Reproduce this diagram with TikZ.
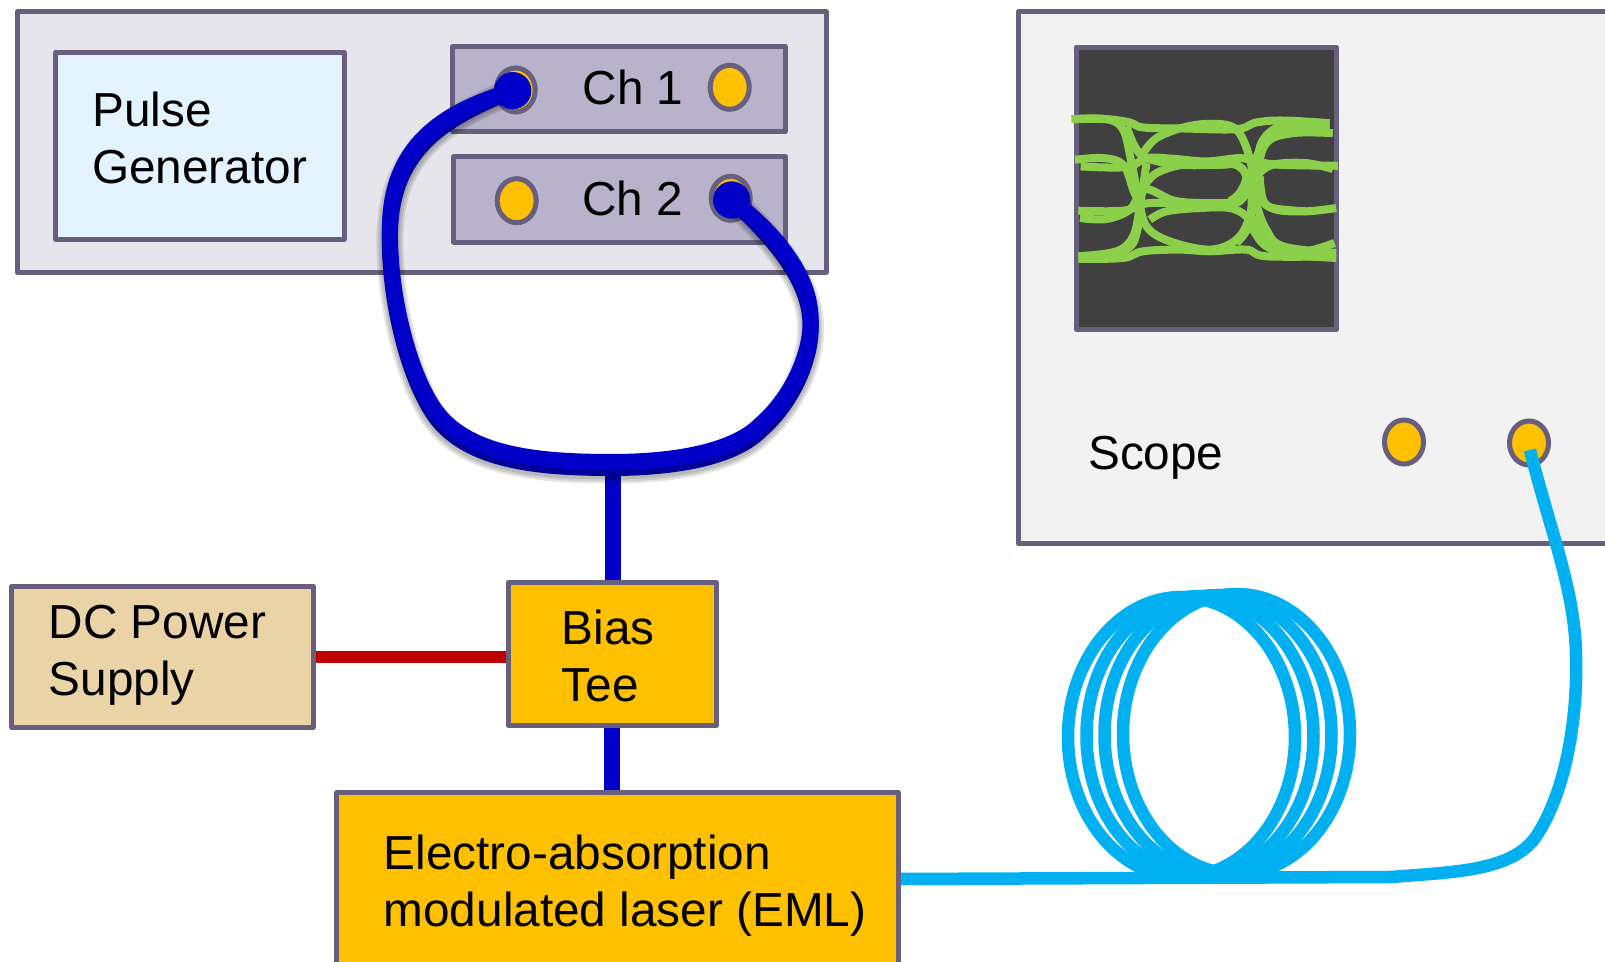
\documentclass[tikz,border=0pt]{standalone}
\usepackage{fontspec}
\setmainfont{Liberation Sans}
\usetikzlibrary{shapes.geometric}
\definecolor{edgegray}{HTML}{675F7D}
\definecolor{amber}{HTML}{FFC000}
\definecolor{cableblue}{HTML}{0000C8}
\definecolor{fiberblue}{HTML}{00B0F0}
\definecolor{eyegreen}{HTML}{8CCF4B}
\definecolor{panelgray}{HTML}{E6E5EC}
\definecolor{chgray}{HTML}{B8B3CA}
\definecolor{paleblue}{HTML}{E3F3FF}
\definecolor{sand}{HTML}{EBD3A8}
\tikzset{
  box/.style={draw=edgegray,line width=0.05cm,line join=round,inner sep=0pt},
  lbl/.style={anchor=west,inner sep=0pt,align=left,font=\fontsize{13.57}{16.3}\selectfont},
  port/.style={ellipse,draw=edgegray,fill=amber,line width=0.05cm,minimum width=0.39cm,minimum height=0.44cm,inner sep=0pt},
  plug/.style={circle,fill=cableblue,minimum size=0.37cm,inner sep=0pt},
  fiber/.style={draw=fiberblue,line width=0.125cm},
  eye/.style={draw=eyegreen,line width=0.08cm},
}
\newcommand{\cablepath}{(plugA.center) .. controls (450,110) and (392,140) .. (390,225)
  .. controls (388,290) and (408,372) .. (435,410)
  .. controls (468,456) and (540,462) .. (612,462)
  .. controls (680,462) and (735,450) .. (760,425)
  .. controls (795,395) and (815,345) .. (810,310)
  .. controls (806,270) and (770,228) .. (plugB.center)}
\begin{document}
\begin{tikzpicture}[x=0.01cm,y=-0.01cm]
\useasboundingbox (0,0) rectangle (1605,962);
% pulse generator
\node[box,fill=panelgray,minimum width=8.09cm,minimum height=2.6cm] (pg) at (421.75,142) {};
\node[box,fill=paleblue,minimum width=2.88cm,minimum height=1.87cm] (pulse) at (200,146) {};
\node[lbl] (pulsetxt) at (91.5,138) {Pulse\\Generator};
\node[box,fill=chgray,minimum width=3.32cm,minimum height=0.85cm] (chone) at (619,89) {};
\node[box,fill=chgray,minimum width=3.32cm,minimum height=0.85cm] (chtwo) at (619.5,199.5) {};
\node[lbl] (chonetxt) at (582,87) {Ch 1};
\node[lbl] (chtwotxt) at (581.5,198) {Ch 2};
\node[port] (portA) at (515.7,90) {};
\node[port] (portB) at (729.7,87.3) {};
\node[port] (portC) at (516.7,200.7) {};
\node[port] (portD) at (730.7,198.3) {};
% scope
\node[box,fill=black!5,minimum width=6.28cm,minimum height=5.32cm] (scope) at (1332.5,277.8) {};
\node[box,fill=black!75,minimum width=2.6cm,minimum height=2.82cm] (screen) at (1206.3,188.6) {};
\node[lbl] (scopetxt) at (1087.5,458) {Scope};
\node[port] (portE) at (1404,442) {};
\node[port] (portF) at (1529,443) {};
% eye traces
\begin{scope}[shift={(1040,30)},x=0.0033333cm,y=-0.0033333cm]
\draw[eye] plot[smooth,tension=.6] coordinates {(95,268) (200,268) (270,278) (310,293) (430,296) (590,298) (650,278) (730,272) (870,280)};
\draw[eye] plot[smooth,tension=.6] coordinates {(310,370) (350,325) (430,293) (510,282) (580,292) (615,340) (640,430) (650,520) (680,600) (730,650) (890,670)};
\draw[eye] plot[smooth,tension=.6] coordinates {(95,268) (200,268) (250,300) (275,400) (295,500) (320,590) (390,635) (510,660) (590,630) (630,560) (650,440) (680,340) (760,310) (880,310)};
\draw[eye] plot[smooth,tension=.6] coordinates {(105,390) (190,385) (250,405) (280,480) (300,540) (280,640) (230,670)};
\draw[eye] plot[smooth,tension=.6] coordinates {(122,410) (260,412) (320,385) (400,387) (500,395) (600,385) (650,395) (720,405) (895,408)};
\draw[eye] plot[smooth,tension=.6] coordinates {(260,290) (285,350) (320,385) (420,405) (540,405) (590,405) (620,440) (600,490) (570,515)};
\draw[eye] plot[smooth,tension=.6] coordinates {(312,470) (350,430) (430,405) (530,405) (590,405) (625,440) (665,510) (710,540) (800,545) (890,535)};
\draw[eye] plot[smooth,tension=.6] coordinates {(115,543) (250,543) (330,520) (480,525) (570,525) (610,505) (650,440) (700,405) (800,400) (880,418)};
\draw[eye] plot[smooth,tension=.6] coordinates {(120,565) (200,568) (270,540) (300,490) (330,480) (400,512) (480,520) (570,520)};
\draw[eye] plot[smooth,tension=.6] coordinates {(330,570) (380,545) (480,535) (570,535) (620,560) (640,600) (680,650) (760,675) (890,685)};
\draw[eye] plot[smooth,tension=.6] coordinates {(115,680) (230,665) (280,620) (300,530) (320,400)};
\draw[eye] plot[smooth,tension=.6] coordinates {(115,688) (250,685) (310,665) (420,660) (510,665) (620,660) (680,680) (890,680)};
\draw[eye] plot[smooth,tension=.6] coordinates {(590,640) (630,580) (640,440) (660,360) (700,320) (780,295) (870,295)};
\draw[eye] plot[smooth,tension=.6] coordinates {(570,525) (620,470) (650,400) (665,340) (700,300) (760,280) (870,285)};
\draw[eye] plot[smooth,tension=.6] coordinates {(660,440) (670,510) (700,535) (800,545)};
\draw[eye] plot[smooth,tension=.6] coordinates {(640,560) (670,630) (720,660) (800,665) (885,640)};
\end{scope}
% lower boxes
\node[box,fill=amber,minimum width=2.08cm,minimum height=1.43cm] (bias) at (612.3,654) {};
\node[lbl] (biastxt) at (561,656) {Bias\\Tee};
\node[box,fill=sand,minimum width=3.01cm,minimum height=1.41cm] (dc) at (162.5,656.8) {};
\node[lbl] (dctxt) at (48,655) {DC Power\\Supply};
\node[box,fill=amber,minimum width=5.62cm,minimum height=1.72cm] (eml) at (617.5,879) {};
\node[lbl] (emltxt) at (383,886) {Electro-absorption\\modulated laser (EML)};
\coordinate (cablebot) at (612.7,462);
% wires
\draw[red!75!black,line width=0.12cm] (dc.east) -- (dc.east -| bias.west);
\draw[cableblue,line width=0.16cm] (cablebot) -- (cablebot |- bias.north);
\draw[cableblue,line width=0.16cm] (bias.south) -- (bias.south |- eml.north);
% blue cable with its shadow
\node[plug] (plugA) at (512.7,90.7) {};
\node[plug] (plugB) at (731.7,200) {};
\foreach \wd in {0.27,0.23,0.19}
  \draw[black,opacity=0.1,line width=\wd cm,shift={(0,8)}] \cablepath;
\draw[blue!60!black,line width=0.16cm,shift={(0,6)}] \cablepath;
\draw[cableblue,line width=0.16cm] \cablepath;
\node[plug] (plugAtop) at (plugA) {};
\node[plug] (plugBtop) at (plugB) {};
% fiber coil
\foreach \cx/\cy in {1181.5/737,1200/736,1218/735,1236.5/734}
  \draw[fiber] (\cx,\cy) ellipse (113.5 and 140);
\coordinate (fibertop) at (1530,450);
\draw[fiber] (eml.east) -- (1392,877) .. controls (1450,872) and (1510,872) .. (1535,838)
  .. controls (1565,795) and (1578,720) .. (1576,655)
  .. controls (1575,590) and (1550,530) .. (fibertop);
\end{tikzpicture}
\end{document}
